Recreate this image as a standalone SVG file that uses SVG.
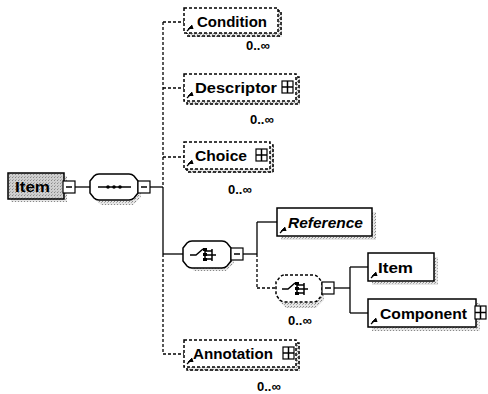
<svg xmlns="http://www.w3.org/2000/svg" width="488" height="394" viewBox="0 0 488 394">
<defs>
<pattern id="stip" width="3" height="3" patternUnits="userSpaceOnUse">
<rect width="3" height="3" fill="#e6e6e6"/>
<rect width="1" height="1" fill="#888"/>
<rect x="2" y="1" width="1" height="1" fill="#aaa"/>
</pattern>
<pattern id="stip2" width="3" height="3" patternUnits="userSpaceOnUse">
<rect width="3" height="3" fill="#cfcfcf"/>
<rect width="1" height="1" fill="#888"/>
<rect x="1" y="2" width="1" height="1" fill="#aaa"/>
</pattern>
<marker id="ar" viewBox="0 0 6 6" refX="5" refY="1" markerWidth="5" markerHeight="5" orient="auto">
<path d="M0,0 L6,0 L4,4 Z" fill="#000"/>
</marker>
</defs>
<style>
.ln{stroke:#000;stroke-width:1.3;fill:none}
.dl{stroke:#000;stroke-width:1.3;fill:none;stroke-dasharray:3,2}
.box{fill:#fff;stroke:#000;stroke-width:1.5}
.dbox{fill:#fff;stroke:#000;stroke-width:1.5;stroke-dasharray:3,2}
.shd{fill:url(#stip);stroke:none}
.t{font-family:"Liberation Sans",Arial,sans-serif;font-weight:bold;font-size:15px;fill:#000}
.ti{font-family:"Liberation Sans",Arial,sans-serif;font-weight:bold;font-style:italic;font-size:15px;fill:#000}
.occ{font-family:"Liberation Sans",Arial,sans-serif;font-weight:bold;font-size:13px;fill:#000}
.pb{fill:#fff;stroke:#000;stroke-width:1.2}
.ic{stroke:#000;stroke-width:1.5;fill:none}
</style>

<g id="connectors">
<line class="ln" x1="75" y1="187" x2="90" y2="187"/>
<line class="ln" x1="150" y1="187" x2="163" y2="187"/>
<line class="dl" x1="163" y1="22" x2="163" y2="187"/>
<line class="ln" x1="163" y1="187" x2="163" y2="254"/>
<line class="dl" x1="163" y1="254" x2="163" y2="354"/>
<line class="dl" x1="163" y1="22" x2="184" y2="22"/>
<line class="dl" x1="163" y1="88" x2="184" y2="88"/>
<line class="dl" x1="163" y1="157" x2="184" y2="157"/>
<line class="dl" x1="163" y1="354" x2="184" y2="354"/>
<line class="ln" x1="163" y1="254" x2="184" y2="254"/>
<line class="ln" x1="243" y1="254" x2="257" y2="254"/>
<line class="ln" x1="257" y1="222" x2="257" y2="254"/>
<line class="dl" x1="257" y1="254" x2="257" y2="288"/>
<line class="ln" x1="257" y1="222" x2="277" y2="222"/>
<line class="dl" x1="257" y1="288" x2="276" y2="288"/>
<line class="ln" x1="334" y1="288" x2="350" y2="288"/>
<line class="ln" x1="350" y1="267" x2="350" y2="313"/>
<line class="ln" x1="350" y1="267" x2="368" y2="267"/>
<line class="ln" x1="350" y1="313" x2="368" y2="313"/>
</g>

<g id="root-item">
<rect class="shd" x="11" y="176" width="56" height="26"/>
<rect x="8" y="173" width="56" height="26" fill="url(#stip2)" stroke="#000" stroke-width="1.5"/>
<text class="t" x="15" y="192" font-size="16" textLength="35" lengthAdjust="spacingAndGlyphs">Item</text>
<rect class="pb" x="63" y="181" width="12" height="12"/>
<line class="ic" x1="66" y1="187" x2="72" y2="187"/>
</g>

<g id="sequence">
<path class="shd" d="M101,177 L133,177 L141,185 L141,197 L133,205 L101,205 L93,197 L93,185 Z"/>
<path d="M99,174 L129,174 Q132,174 134,176 L138,181 L138,193 L134,198 Q132,200 129,200 L99,200 Q96,200 94,198 L90,193 L90,181 L94,176 Q96,174 99,174 Z" fill="#fff" stroke="#000" stroke-width="1.5"/>
<line class="ln" x1="98" y1="187" x2="131" y2="187"/>
<circle cx="108" cy="187" r="1.8"/>
<circle cx="114" cy="187" r="1.8"/>
<circle cx="120" cy="187" r="1.8"/>
<rect class="pb" x="138" y="181" width="12" height="12"/>
<line class="ic" x1="141" y1="187" x2="147" y2="187"/>
</g>

<g id="condition">
<rect class="shd" x="188" y="12" width="94" height="25"/>
<rect class="dbox" x="187" y="11" width="94" height="25" style="fill:none"/>
<rect class="dbox" x="184" y="8" width="94" height="25"/>
<text class="t" x="197" y="27" textLength="70" lengthAdjust="spacingAndGlyphs">Condition</text>
<path d="M187,31 L192,26" class="ln" marker-end="url(#ar)"/>
<text class="occ" x="246" y="50">0..∞</text>
</g>

<g id="descriptor">
<rect class="shd" x="188" y="78" width="112" height="27"/>
<rect class="dbox" x="187" y="77" width="112" height="27" style="fill:none"/>
<rect class="dbox" x="184" y="74" width="112" height="27"/>
<text class="t" x="195" y="93" textLength="82" lengthAdjust="spacingAndGlyphs">Descriptor</text>
<path d="M187,98 L192,93" class="ln" marker-end="url(#ar)"/>
<rect class="pb" x="282" y="81" width="11" height="12"/>
<line class="ic" x1="282" y1="87" x2="293" y2="87"/>
<line class="ic" x1="287.5" y1="81" x2="287.5" y2="93"/>
<text class="occ" x="250" y="124">0..∞</text>
</g>

<g id="choice-elem">
<rect class="shd" x="188" y="146" width="86" height="27"/>
<rect class="dbox" x="187" y="145" width="86" height="27" style="fill:none"/>
<rect class="dbox" x="184" y="142" width="86" height="27"/>
<text class="t" x="195" y="161" textLength="52" lengthAdjust="spacingAndGlyphs">Choice</text>
<path d="M187,166 L192,161" class="ln" marker-end="url(#ar)"/>
<rect class="pb" x="256" y="149" width="11" height="12"/>
<line class="ic" x1="256" y1="155" x2="267" y2="155"/>
<line class="ic" x1="261.5" y1="149" x2="261.5" y2="161"/>
<text class="occ" x="228" y="194">0..∞</text>
</g>

<g id="choice-compositor">
<path class="shd" d="M194,244 L226,244 L234,252 L234,263 L226,271 L194,271 L186,263 L186,252 Z"/>
<path d="M192,241 L222,241 Q225,241 227,243 L231,248 L231,261 L227,266 Q225,268 222,268 L192,268 Q189,268 187,266 L183,261 L183,248 L187,243 Q189,241 192,241 Z" fill="#fff" stroke="#000" stroke-width="1.5"/>
<path class="ic" d="M190,255 L196,255 L203,249 M205,249 L205,260 M205,251 L212,251 M205,255 L216,255 M205,259 L212,259 M212,249 L212,261"/>
<rect x="203" y="248" width="4" height="3"/>
<rect x="203" y="253" width="4" height="3"/>
<rect x="203" y="258" width="4" height="3"/>
<rect class="pb" x="231" y="248" width="12" height="12"/>
<line class="ic" x1="234" y1="254" x2="240" y2="254"/>
</g>

<g id="reference">
<rect class="shd" x="281" y="212" width="95" height="28"/>
<rect class="box" x="277" y="208" width="95" height="28"/>
<text class="ti" x="288" y="228" textLength="75" lengthAdjust="spacingAndGlyphs">Reference</text>
<path d="M280,233 L285,228" class="ln" marker-end="url(#ar)"/>
</g>

<g id="choice-multi">
<path class="shd" d="M286,281 L316,281 L324,289 L324,300 L316,308 L286,308 L278,300 L278,289 Z"/>
<path d="M285,275 L313,275 Q316,275 318,277 L322,282 L322,295 L318,300 Q316,302 313,302 L285,302 Q282,302 280,300 L276,295 L276,282 L280,277 Q282,275 285,275 Z" fill="#fff" stroke="#000" stroke-width="1.5" stroke-dasharray="3,2"/>
<path class="ic" d="M282,289 L288,289 L295,283 M297,283 L297,294 M297,285 L304,285 M297,289 L308,289 M297,293 L304,293 M304,283 L304,295"/>
<rect x="295" y="282" width="4" height="3"/>
<rect x="295" y="287" width="4" height="3"/>
<rect x="295" y="292" width="4" height="3"/>
<rect class="pb" x="322" y="282" width="12" height="12"/>
<line class="ic" x1="325" y1="288" x2="331" y2="288"/>
<text class="occ" x="288" y="325">0..∞</text>
</g>

<g id="item-child">
<rect class="shd" x="372" y="257" width="66" height="28"/>
<rect class="box" x="368" y="253" width="66" height="28"/>
<text class="t" x="378" y="273" textLength="35" lengthAdjust="spacingAndGlyphs">Item</text>
<path d="M371,278 L376,273" class="ln" marker-end="url(#ar)"/>
</g>

<g id="component">
<rect class="shd" x="372" y="303" width="108" height="28"/>
<rect class="box" x="368" y="299" width="108" height="28"/>
<text class="t" x="380" y="319" textLength="87" lengthAdjust="spacingAndGlyphs">Component</text>
<path d="M371,324 L376,319" class="ln" marker-end="url(#ar)"/>
<rect class="pb" x="475" y="306" width="11" height="13"/>
<line class="ic" x1="475" y1="312.5" x2="486" y2="312.5"/>
<line class="ic" x1="480.5" y1="306" x2="480.5" y2="319"/>
</g>

<g id="annotation">
<rect class="shd" x="188" y="344" width="112" height="27"/>
<rect class="dbox" x="187" y="343" width="112" height="27" style="fill:none"/>
<rect class="dbox" x="184" y="340" width="112" height="27"/>
<text class="t" x="193" y="359" textLength="80" lengthAdjust="spacingAndGlyphs">Annotation</text>
<path d="M187,364 L192,359" class="ln" marker-end="url(#ar)"/>
<rect class="pb" x="283" y="347" width="11" height="12"/>
<line class="ic" x1="283" y1="353" x2="294" y2="353"/>
<line class="ic" x1="288.5" y1="347" x2="288.5" y2="359"/>
<text class="occ" x="257" y="391">0..∞</text>
</g>
</svg>
